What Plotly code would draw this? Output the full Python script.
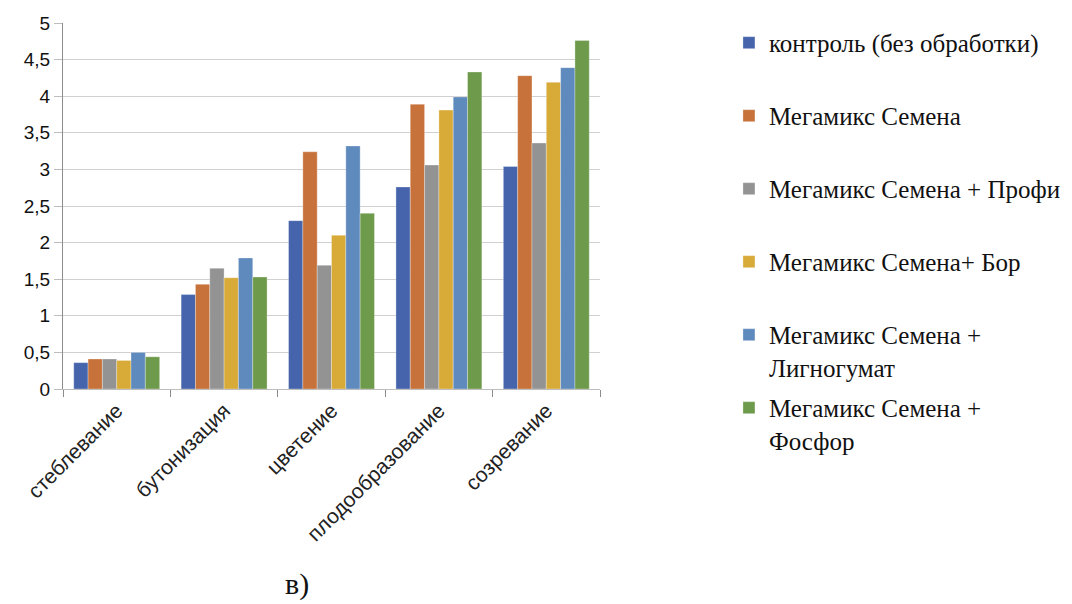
import plotly.graph_objects as go

categories = ["стеблевание", "бутонизация", "цветение", "плодообразование", "созревание"]

series_names = [
    "контроль (без обработки)",
    "Мегамикс Семена",
    "Мегамикс Семена + Профи",
    "Мегамикс Семена+ Бор",
    "Мегамикс Семена +<br>Лигногумат",
    "Мегамикс Семена +<br>Фосфор",
]

control = [0.36, 1.29, 2.30, 2.76, 3.04]
megamix = [0.41, 1.43, 3.24, 3.89, 4.28]
megamix_profi = [0.41, 1.65, 1.69, 3.06, 3.36]
megamix_bor = [0.39, 1.52, 2.10, 3.81, 4.19]
megamix_ligno = [0.50, 1.79, 3.32, 3.99, 4.39]
megamix_fosfor = [0.44, 1.53, 2.40, 4.33, 4.76]

colors = ["#4564AB", "#C7723A", "#939393", "#D8AA38", "#5F8ABD", "#6E9A4B"]

y_tickvals = [0, 0.5, 1, 1.5, 2, 2.5, 3, 3.5, 4, 4.5, 5]
y_ticktext = ["0", "0,5", "1", "1,5", "2", "2,5", "3", "3,5", "4", "4,5", "5"]

caption = "в)"

all_series = [control, megamix, megamix_profi, megamix_bor, megamix_ligno, megamix_fosfor]

fig = go.Figure()
for i, (name, vals) in enumerate(zip(series_names, all_series)):
    # pad single-line names to two lines so all legend slots are equal height
    legend_name = name if "<br>" in name else name + "<br> "
    fig.add_trace(go.Bar(
        x=categories, y=vals, name=legend_name,
        marker=dict(color=colors[i], line=dict(color="rgba(255,255,255,0.6)", width=0.5)),
        legendgroup=f"g{i}",
    ))

fig.update_layout(
    width=1072, height=604,
    barmode="group", bargap=0.2, bargroupgap=0,
    plot_bgcolor="white", paper_bgcolor="white",
    margin=dict(l=63, r=472, t=23, b=215),
    font=dict(family="Liberation Sans, Arial, sans-serif", size=17, color="#1a1a1a"),
    legend=dict(
        xref="container", yref="container",
        x=0.680, y=0.967, xanchor="left", yanchor="top",
        font=dict(family="Liberation Serif, Times New Roman, serif", size=25, color="#111111"),
        tracegroupgap=5, valign="top",
        bgcolor="rgba(0,0,0,0)",
        maxheight=580,
    ),
    annotations=[dict(
        text=caption, xref="paper", yref="paper", x=0.436, y=-0.533,
        xanchor="center", yanchor="middle", showarrow=False,
        font=dict(family="Liberation Serif, Times New Roman, serif", size=30, color="#111111"),
    )],
)

fig.update_yaxes(
    range=[0, 5], tickvals=y_tickvals, ticktext=y_ticktext,
    showgrid=True, gridcolor="#d0d0d0", gridwidth=1,
    showline=True, linecolor="#8c8c8c", linewidth=1,
    ticks="outside", ticklen=8, tickcolor="#bdbdbd",
    zeroline=False,
    tickfont=dict(family="Liberation Sans, Arial, sans-serif", size=19, color="#111111"),
)
fig.update_xaxes(
    tickangle=-45, tickson="boundaries", ticks="outside", ticklen=7, tickcolor="#8c8c8c",
    showline=True, linecolor="#bdbdbd", linewidth=1,
    tickfont=dict(family="Liberation Sans, Arial, sans-serif", size=21, color="#222222"),
)

fig.write_html("out.html", post_script="document.body.style.margin='0';",
               config={"displayModeBar": False})
